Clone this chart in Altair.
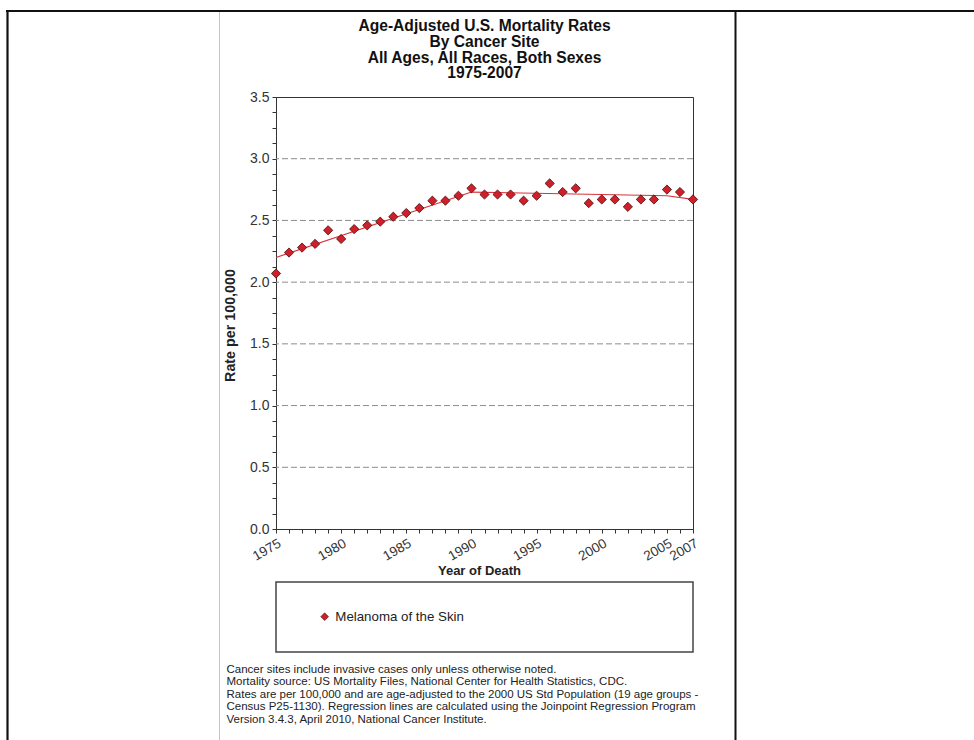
import altair as alt
import pandas as pd

# Observed age-adjusted melanoma mortality rates, 1975-2007
years = list(range(1975, 2008))
rates = [2.07, 2.24, 2.28, 2.31, 2.42, 2.35, 2.43, 2.46, 2.49, 2.53, 2.56, 2.60,
         2.66, 2.66, 2.70, 2.76, 2.71, 2.71, 2.71, 2.66, 2.70, 2.80, 2.73, 2.76,
         2.64, 2.67, 2.67, 2.61, 2.67, 2.67, 2.75, 2.73, 2.67]
series_name = "Melanoma of the Skin"

# Joinpoint regression: fitted values at the segment joins
fit_years = [1975, 1990, 2005, 2007]
fit_rates = [2.20, 2.73, 2.70, 2.67]

# Dashed reference lines
grid_values = [0.5, 1.0, 1.5, 2.0, 2.5, 3.0]

title_lines = [
    "Age-Adjusted U.S. Mortality Rates",
    "By Cancer Site",
    "All Ages, All Races, Both Sexes",
    "1975-2007",
]
footnote_lines = [
    "Cancer sites include invasive cases only unless otherwise noted.",
    "Mortality source: US Mortality Files, National Center for Health Statistics, CDC.",
    "Rates are per 100,000 and are age-adjusted to the 2000 US Std Population (19 age groups -",
    "Census P25-1130). Regression lines are calculated using the Joinpoint Regression Program",
    "Version 3.4.3, April 2010, National Cancer Institute.",
]

FONT = "Liberation Sans"
RED = "#cf1f2b"
PLOT_W, PLOT_H = 417, 432
LEFT, TOP = 276, 97

obs = pd.DataFrame({"year": years, "rate": rates, "series": series_name})
fit = pd.DataFrame({"year": fit_years, "rate": fit_rates})
grid = pd.DataFrame({"rate": grid_values})
one = alt.Data(values=[{}])

x_scale = alt.Scale(domain=[1975, 2007], nice=False, zero=False)
y_scale = alt.Scale(domain=[0, 3.5], nice=False, zero=True)

x_axis = alt.Axis(
    values=years,
    labelExpr="(datum.value % 5 == 0 || datum.value == 2007) ? format(datum.value, 'd') : ''",
    labelAngle=330, labelAlign="right", labelBaseline="top",
    labelOverlap=False, labelFlush=False, labelBound=False,
    labelFont=FONT, labelFontSize=13.5, labelColor="#333", labelPadding=3,
    tickSize=4, tickColor="#333", domainColor="#333", grid=False,
    title="Year of Death", titleFont=FONT, titleFontSize=13, titleFontWeight="bold",
    titleColor="#222", titleX=203, titleY=45.5, titleAlign="center",
    titleBaseline="alphabetic",
)
y_ticks = [i * 0.125 for i in range(29)]
y_axis = alt.Axis(
    values=y_ticks,
    labelExpr="(datum.value % 0.5 == 0) ? format(datum.value, '.1f') : ''",
    labelFont=FONT, labelFontSize=14, labelColor="#333", labelPadding=3,
    labelOverlap=False, labelFlush=False, labelBound=False,
    tickSize=4, tickColor="#333", domainColor="#333", grid=False,
    title="Rate per 100,000", titleFont=FONT, titleFontSize=14.3, titleFontWeight="bold",
    titleColor="#222", titleAngle=270, titleX=-45.5, titleY=228,
    titleAlign="center", titleBaseline="middle",
)

gridlines = alt.Chart(grid).mark_rule(color="#8c8c8c", strokeWidth=1, strokeDash=[6, 3]).encode(
    y=alt.Y("rate:Q", scale=y_scale, axis=y_axis)
)

trend = alt.Chart(fit).mark_line(color="#d8323c", strokeWidth=1.2).encode(
    x=alt.X("year:Q", scale=x_scale, axis=x_axis),
    y=alt.Y("rate:Q", scale=y_scale, axis=y_axis),
)

points = alt.Chart(obs).mark_point(
    shape="diamond", filled=True, size=85, stroke="#4a0a0a", strokeWidth=0.8, opacity=1
).encode(
    x=alt.X("year:Q", scale=x_scale, axis=x_axis),
    y=alt.Y("rate:Q", scale=y_scale, axis=y_axis),
    color=alt.Color(
        "series:N",
        scale=alt.Scale(domain=[series_name], range=[RED]),
        legend=alt.Legend(
            title=None, orient="none", legendX=42, legendY=513,
            symbolType="diamond", symbolSize=60, symbolFillColor=RED,
            symbolStrokeColor="#4a0a0a", symbolStrokeWidth=0.6,
            labelFont=FONT, labelFontSize=13.3, labelColor="#222", labelOffset=4,
            padding=0,
        ),
    ),
)

# Legend frame below the plot
legend_box = alt.Chart(one).mark_rect(fill="white", stroke="#444", strokeWidth=1.5).encode(
    x=alt.value(0), x2=alt.value(PLOT_W), y=alt.value(582 - TOP), y2=alt.value(652 - TOP)
)

title = alt.Chart(one).mark_text(
    text=title_lines, font=FONT, fontSize=15.6, fontWeight="bold", color="#111",
    align="center", baseline="alphabetic", lineHeight=15.8,
).encode(x=alt.value(PLOT_W / 2), y=alt.value(31 - TOP))

footnote = alt.Chart(one).mark_text(
    text=footnote_lines, font=FONT, fontSize=11.5, color="#222",
    align="left", baseline="alphabetic", lineHeight=12.4,
).encode(x=alt.value(226.5 - LEFT), y=alt.value(673 - TOP))

# Page frame rules
def hline(y, x0, x1, color, width):
    return alt.Chart(one).mark_rule(color=color, strokeWidth=width).encode(
        x=alt.value(x0 - LEFT), x2=alt.value(x1 - LEFT), y=alt.value(y - TOP)
    )

def vline(x, y0, y1, color, width):
    return alt.Chart(one).mark_rule(color=color, strokeWidth=width).encode(
        x=alt.value(x - LEFT), y=alt.value(y0 - TOP), y2=alt.value(y1 - TOP)
    )

frame = [
    hline(11, 6, 974, "#111", 2.2),
    vline(7.5, 10, 740, "#111", 2.2),
    vline(219.5, 12, 740, "#c4c4c4", 1),
    vline(735.5, 10, 740, "#111", 2),
]

chart = alt.layer(
    *frame, legend_box, gridlines, trend, points, title, footnote
).properties(
    width=PLOT_W, height=PLOT_H,
    autosize=alt.AutoSizeParams(type="none"),
    padding={"left": LEFT, "top": TOP, "right": 974 - LEFT - PLOT_W, "bottom": 740 - TOP - PLOT_H},
    background="white",
).configure_view(stroke="#333", strokeWidth=1)

chart.save("out.html", embed_options={"renderer": "svg", "actions": False})
